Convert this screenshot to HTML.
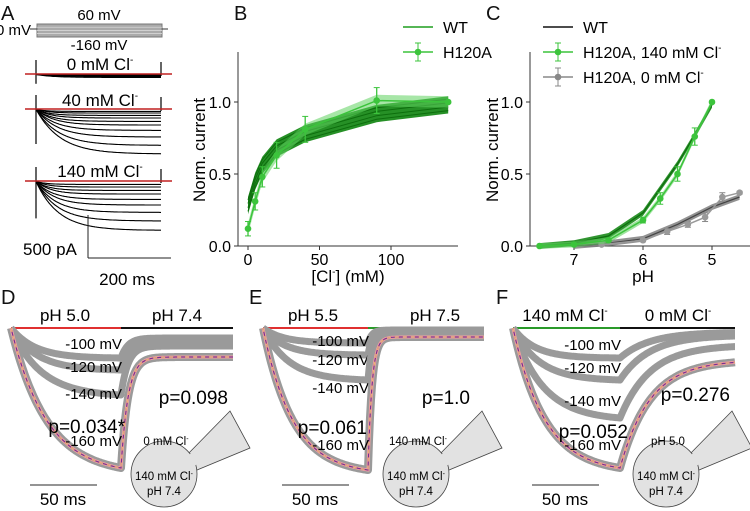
<!DOCTYPE html>
<html><head><meta charset="utf-8"><style>
html,body{margin:0;padding:0;background:#fff}
svg{display:block;font-family:"Liberation Sans",sans-serif}
</style></head><body>
<svg id="fig" width="750" height="511" viewBox="0 0 750 511" xmlns="http://www.w3.org/2000/svg">
<g font-size="20" fill="#111">
<text x="1" y="20">A</text>
<text x="234" y="20">B</text>
<text x="486" y="20">C</text>
<text x="1" y="304">D</text>
<text x="249" y="304">E</text>
<text x="496" y="304">F</text>
</g>
<g id="A"></g>
<g id="B"></g>
<g id="C"></g>
<g id="D"></g>
<g id="E"></g>
<g id="F"></g>
</svg>
<script>
// ---- Panel B data
const bConc=[0,5,10,20,40,90,140];
const bWT=[0.28,0.45,0.56,0.68,0.78,0.92,0.98];
const bH120A=[0.12,0.31,0.48,0.63,0.81,1.01,1.0];
const bH120AErr=[0.05,0.06,0.07,0.09,0.09,0.09,0.0];
const bYTicks=[0,0.5,1.0];
const bXTicks=[0,50,100];
// ---- Panel C data
const cPH=[7.5,7,6.5,6,5.75,5.5,5.25,5];
const cWT=[0,0.02,0.07,0.23,0.40,0.57,0.77,0.98];
const cH140=[0,0.01,0.04,0.18,0.33,0.50,0.76,1.0];
const cH140Err=[0,0,0.01,0.02,0.04,0.05,0.06,0];
const cPH0=[6.6,6,5.65,5.35,5.1,4.85,4.6];
const cH0=[0.01,0.04,0.10,0.15,0.20,0.34,0.37];
const cH0Err=[0,0.01,0.02,0.02,0.03,0.03,0.01];
const cWT0PH=[7,6.5,6,5.5,5,4.6];
const cWT0=[0,0.02,0.05,0.15,0.27,0.34];
const cXTicks=[7,6,5];
// ---- Panel A data (pixel deflection of steady current per sweep)
const a0mM=[0,1,1,2,2,3];
const a40mM=[0,2,4,6,9,12,16,21,28,36,45];
const a140mM=[0,3,6,9,13,18,24,31,40,49];
// ---- Panels D-F data (phase-1 amplitude at switch, end value; px)
const dVolt=["-100 mV","-120 mV","-140 mV","-160 mV"];
const dSwitch=[30,42,67,140];
const dEnd=[10,14,18,29];
const eSwitch=[15,27,52,142];
const eEnd=[2,3,4,9];
const fSwitch=[30,52,90,140];
const fEnd=[4,7,17,32];

const NS="http://www.w3.org/2000/svg";
function el(p,tag,attrs,txt){const e=document.createElementNS(NS,tag);for(const k in attrs)e.setAttribute(k,attrs[k]);if(txt!==undefined)e.textContent=txt;p.appendChild(e);return e;}
function pathD(pts){return pts.map((p,i)=>(i?'L':'M')+p[0].toFixed(1)+','+p[1].toFixed(1)).join('');}

// ===== Panel A
(function(){
const g=document.getElementById('A');
let r=el(g,'rect',{x:37,y:24,width:125,height:13,fill:'#aaa',stroke:'#777'});

for(let i=1;i<4;i++)el(g,'line',{x1:37,x2:162,y1:24+i*3.2,y2:24+i*3.2,stroke:'#ddd','stroke-width':0.7});
el(g,'line',{x1:30,x2:37,y1:29,y2:29,stroke:'#333'});el(g,'line',{x1:162,x2:168,y1:29,y2:29,stroke:'#333'});
let t=el(g,'text',{x:99,y:20,'font-size':15,'text-anchor':'middle'},'60 mV');
t=el(g,'text',{x:-4,y:35,'font-size':15},'0 mV');
t=el(g,'text',{x:99,y:50,'font-size':15,'text-anchor':'middle'},'-160 mV');
function block(base,arr,label,ly,name){
  arr.forEach((a,i)=>{const pts=[];for(let x=36;x<=161;x+=1){const tau=8+i*1.6;pts.push([x,base+a*(1-Math.exp(-(x-36)/tau))+0.4*(i%2)]);}
    const p=el(g,'path',{d:pathD(pts),fill:'none',stroke:'#000','stroke-width':1.1});
    });
  el(g,'line',{x1:36,x2:36,y1:base-14,y2:base+Math.max(...arr)*0.6+8,stroke:'#000','stroke-width':1.2});
  el(g,'line',{x1:161,x2:161,y1:base-12,y2:base+2,stroke:'#000','stroke-width':1.2});
  const rl=el(g,'line',{x1:25,x2:172,y1:base,y2:base,stroke:'#c02020','stroke-width':1.4});
  
  const tt=el(g,'text',{x:100,y:ly,'font-size':17,'text-anchor':'middle'});tt.innerHTML=label+'Cl<tspan font-size="10" dy="-7">-</tspan>';
  
}
block(74,a0mM,'0 mM ',70,'trace-0mm');
block(109,a40mM,'40 mM ',106,'trace-40mm');
block(181,a140mM,'140 mM ',177,'trace-140mm');
el(g,'line',{x1:88,x2:88,y1:215,y2:258,stroke:'#222'});el(g,'line',{x1:88,x2:171,y1:258,y2:258,stroke:'#222'});
t=el(g,'text',{x:23,y:255,'font-size':17},'500 pA');
t=el(g,'text',{x:127,y:285,'font-size':17,'text-anchor':'middle'},'200 ms');
})();

// ===== generic axes
function yAxis(g,x0,yS,ticks,name){
  el(g,'line',{x1:x0,x2:x0,y1:52,y2:246,stroke:'#333'});
  ticks.forEach(v=>{el(g,'line',{x1:x0-4,x2:x0,y1:yS(v),y2:yS(v),stroke:'#333'});
    const t=el(g,'text',{x:x0-7,y:yS(v)+6,'font-size':16,'text-anchor':'end'},v.toFixed(1));
    });
}
function errBars(g,xs,ys,es,xS,yS,col,name){
  xs.forEach((x,i)=>{if(es[i]<=0)return;const X=xS(x);
    el(g,'line',{x1:X,x2:X,y1:yS(ys[i]-es[i]),y2:yS(ys[i]+es[i]),stroke:col,'stroke-width':1.3});
    el(g,'line',{x1:X-3,x2:X+3,y1:yS(ys[i]-es[i]),y2:yS(ys[i]-es[i]),stroke:col});
    el(g,'line',{x1:X-3,x2:X+3,y1:yS(ys[i]+es[i]),y2:yS(ys[i]+es[i]),stroke:col});});
}
function dots(g,xs,ys,xS,yS,col,name){
  xs.forEach((x,i)=>{const c=el(g,'circle',{cx:xS(x),cy:yS(ys[i]),r:3.3,fill:col});
    });
}
function band(g,xs,ys,w,xS,yS,col,op,name){
  const up=xs.map((x,i)=>[xS(x),yS(ys[i]+w)]),dn=xs.map((x,i)=>[xS(x),yS(ys[i]-w)]).reverse();
  const p=el(g,'path',{d:pathD(up.concat(dn))+'Z',fill:col,opacity:op});
  
}
function line(g,xs,ys,xS,yS,col,w,name){
  const p=el(g,'path',{d:pathD(xs.map((x,i)=>[xS(x),yS(ys[i])])),fill:'none',stroke:col,'stroke-width':w});
  
}
function legend(g,x,y,col,label,marker,name){
  const l=el(g,'line',{x1:x,x2:x+30,y1:y,y2:y,stroke:col,'stroke-width':1.6});
  
  if(marker){el(g,'circle',{cx:x+15,cy:y,r:3.3,fill:col});el(g,'line',{x1:x+15,x2:x+15,y1:y-9,y2:y+9,stroke:col});
    el(g,'line',{x1:x+12,x2:x+18,y1:y-9,y2:y-9,stroke:col});el(g,'line',{x1:x+12,x2:x+18,y1:y+9,y2:y+9,stroke:col});}
  const t=el(g,'text',{x:x+40,y:y+6,'font-size':16});t.innerHTML=label;
  
}
function ylabel(g,x,name){const t=el(g,'text',{x:x,y:150,'font-size':17,'text-anchor':'middle',transform:'rotate(-90 '+x+' 150)'},'Norm. current');
  }

// ===== Panel B
(function(){
const g=document.getElementById('B');
const xS=v=>248+v*1.43, yS=v=>246-v*144;
yAxis(g,238,yS,bYTicks,'b');
el(g,'line',{x1:238,x2:458,y1:246,y2:246,stroke:'#333'});
bXTicks.forEach(v=>{el(g,'line',{x1:xS(v),x2:xS(v),y1:246,y2:250,stroke:'#333'});
  const t=el(g,'text',{x:xS(v),y:265,'font-size':16,'text-anchor':'middle'},v);});
let t=el(g,'text',{x:348,y:282,'font-size':17,'text-anchor':'middle'});t.innerHTML='[Cl<tspan font-size="10" dy="-7">-</tspan><tspan dy="7">] (mM)</tspan>';

ylabel(g,205,'b-y-axis-title');
band(g,bConc,bWT,0.06,xS,yS,'#1a8a1a',0.95,'wt-band');
[-0.04,-0.015,0.015,0.04].forEach(o=>line(g,bConc,bWT.map(v=>v+o),xS,yS,'#0d6e0d',1,'wt-line'));
band(g,bConc,bH120A,0.04,xS,yS,'#5fd15f',0.55,'h120a-band');
line(g,bConc,bH120A,xS,yS,'#3cc43c',1.5,'h120a-line');
errBars(g,bConc,bH120A,bH120AErr,xS,yS,'#3cc43c','h120a-err');
dots(g,bConc,bH120A,xS,yS,'#3cc43c','h120a-point');
legend(g,403,27,'#1e9e1e','WT',false,'legend-b-wt');
legend(g,403,52,'#3cc43c','H120A',true,'legend-b-h120a');
})();

// ===== Panel C
(function(){
const g=document.getElementById('C');
const xS=v=>574+(7-v)*69, yS=v=>246-v*144;
yAxis(g,530,yS,bYTicks,'c');
el(g,'line',{x1:530,x2:750,y1:246,y2:246,stroke:'#333'});
cXTicks.forEach(v=>{el(g,'line',{x1:xS(v),x2:xS(v),y1:246,y2:250,stroke:'#333'});
  const t=el(g,'text',{x:xS(v),y:265,'font-size':16,'text-anchor':'middle'},v);});
let t=el(g,'text',{x:643,y:282,'font-size':17,'text-anchor':'middle'},'pH');
ylabel(g,498,'c-y-axis-title');
band(g,cWT0PH,cWT0,0.02,xS,yS,'#777',0.8,'wt-0mm-band');
line(g,cWT0PH,cWT0,xS,yS,'#444',1.2,'wt-0mm-line');
line(g,cPH0,cH0,xS,yS,'#999',1.5,'h120a-0mm-line');
errBars(g,cPH0,cH0,cH0Err,xS,yS,'#888','h120a-0mm-err');
dots(g,cPH0,cH0,xS,yS,'#999','h120a-0mm-point');
band(g,cPH,cWT,0.02,xS,yS,'#1a8a1a',0.9,'wt-band');
line(g,cPH,cWT,xS,yS,'#0d6e0d',1.2,'wt-line');
band(g,cPH,cH140,0.02,xS,yS,'#5fd15f',0.6,'h120a-140-band');
line(g,cPH,cH140,xS,yS,'#3cc43c',1.5,'h120a-140-line');
errBars(g,cPH,cH140,cH140Err,xS,yS,'#3cc43c','h120a-140-err');
dots(g,cPH,cH140,xS,yS,'#3cc43c','h120a-140-point');
legend(g,543,27,'#111','WT',false,'legend-c-wt');
legend(g,543,52,'#3cc43c','H120A, 140 mM Cl<tspan font-size="10" dy="-7">-</tspan>',true,'legend-c-h120a-140');
legend(g,543,77,'#888','H120A, 0 mM Cl<tspan font-size="10" dy="-7">-</tspan>',true,'legend-c-h120a-0');
})();

// ===== Panels D-F
function relax(id,x0,xs,x1,sw,en,tau1,tau2,c1,c2,t1,t2,t1x,t2x,labY,pA,pB,cellTop,name){
  const g=document.getElementById(id), y0=328;
  let l=el(g,'line',{x1:x0,x2:xs,y1:y0,y2:y0,stroke:c1,'stroke-width':2});
  l=el(g,'line',{x1:xs,x2:x1,y1:y0,y2:y0,stroke:c2,'stroke-width':2});
  let t=el(g,'text',{x:t1x,y:321,'font-size':17,'text-anchor':'middle'});t.innerHTML=t1;
  t=el(g,'text',{x:t2x,y:321,'font-size':17,'text-anchor':'middle'});t.innerHTML=t2;
  sw.forEach((s,i)=>{
    const tauA=tau1[i];const A=s/(1-Math.exp(-(xs-x0)/tauA));const pts=[];
    for(let x=x0;x<=xs;x+=1)pts.push([x,y0+A*(1-Math.exp(-(x-x0)/tauA))]);
    for(let x=xs;x<=x1;x+=1)pts.push([x,y0+en[i]+(s-en[i])*Math.exp(-(x-xs)/tau2)]);
    const p=el(g,'path',{d:pathD(pts),fill:'none',stroke:'#9a9a9a','stroke-width':i==3?8:7,'stroke-linejoin':'round'});
    
    if(i==3){el(g,'path',{d:pathD(pts),fill:'none',stroke:'#f4a0a0','stroke-width':3});
      el(g,'path',{d:pathD(pts),fill:'none',stroke:'#7a3090','stroke-width':1.2});
      el(g,'path',{d:pathD(pts),fill:'none',stroke:'#f0c070','stroke-width':1,'stroke-dasharray':'4 4'});}
    const lt=el(g,'text',{x:xs+1,y:labY[i],'font-size':15,'text-anchor':'end'},dVolt[i]);
    
  });
  t=el(g,'text',{x:pA[0],y:pA[1],'font-size':19,'text-anchor':'end'},pA[2]);
  t=el(g,'text',{x:pB[0],y:pB[1],'font-size':19,'text-anchor':'end'},pB[2]);
  const sx=x0+19;
  l=el(g,'line',{x1:sx,x2:sx+67,y1:485,y2:485,stroke:'#555','stroke-width':1.2});
  t=el(g,'text',{x:sx+33,y:505,'font-size':17,'text-anchor':'middle'},'50 ms');
  const cx=x0+153, cy=474;
  const tri=el(g,'polygon',{points:`${cx+21},${cy-17} ${cx+66},${cy-63} ${cx+86},${cy-26} ${cx+33},${cy-4}`,fill:'#e2e2e2',stroke:'#444','stroke-width':0.8});
  
  const c=el(g,'circle',{cx:cx,cy:cy,r:33,fill:'#e2e2e2',stroke:'#444','stroke-width':0.8});
  
  el(g,'rect',{x:cx+18,y:cy-18,width:16,height:12,fill:'#e2e2e2',transform:`rotate(-40 ${cx+26} ${cy-12})`});
  t=el(g,'text',{x:cx+2,y:cy-29,'font-size':11.5,'text-anchor':'middle'});t.innerHTML=cellTop;
  t=el(g,'text',{x:cx,y:cy+6,'font-size':11.5,'text-anchor':'middle'});t.innerHTML='140 mM Cl<tspan font-size="7" dy="-4">-</tspan>';
  t=el(g,'text',{x:cx,y:cy+21,'font-size':11.5,'text-anchor':'middle'},'pH 7.4');
}
const CL='<tspan font-size="10" dy="-7">-</tspan>';
relax('D',11,121,233,dSwitch,dEnd,[24,26,30,36],7,'#e03030','#111','pH 5.0','pH 7.4',65,177,[349,372,399,446],
  [125,433,'p=0.034*'],[228,404,'p=0.098'],'0 mM Cl<tspan font-size="7" dy="-4">-</tspan>','panel-d');
relax('E',263,368,484,eSwitch,eEnd,[20,22,26,30],4,'#e03030','#2a9a2a','pH 5.5','pH 7.5',313,435,[346,365,393,450],
  [367,434,'p=0.061'],[470,404,'p=1.0'],'140 mM Cl<tspan font-size="7" dy="-4">-</tspan>','panel-e');
relax('F',513,620,735,fSwitch,fEnd,[22,26,30,32],30,'#2a9a2a','#111','140 mM Cl'+CL,'0 mM Cl'+CL,565,678,[350,373,406,450],
  [628,438,'p=0.052'],[730,401,'p=0.276'],'pH 5.0','panel-f');
</script>
</body></html>
